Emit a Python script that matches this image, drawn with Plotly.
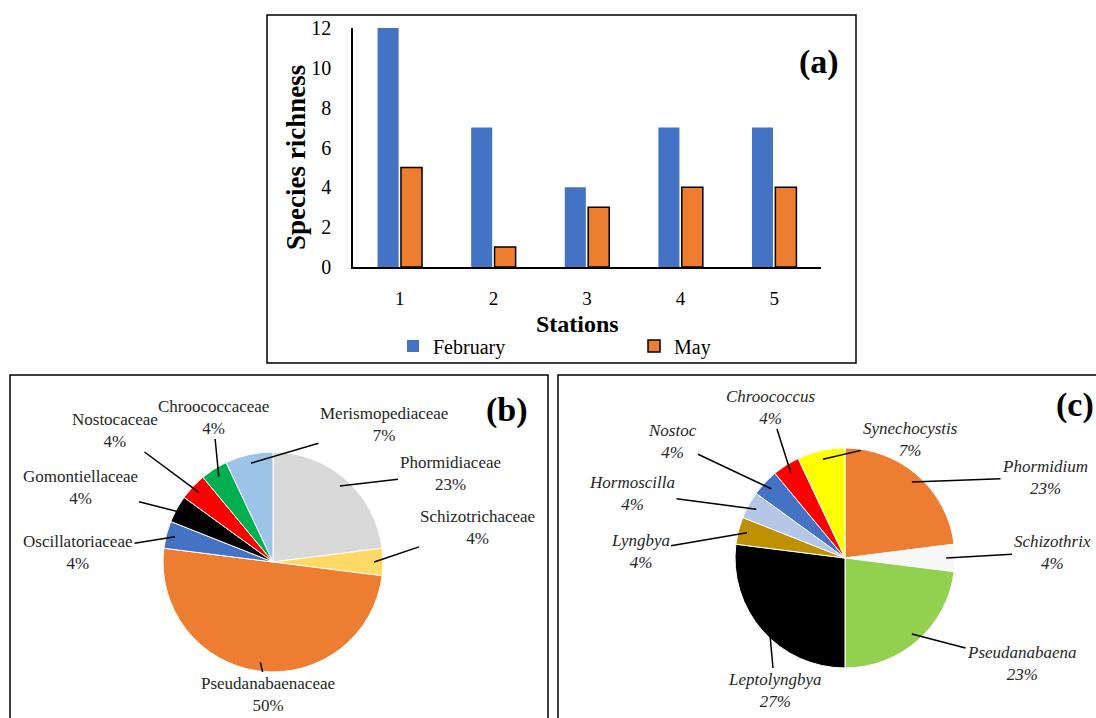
import math
import plotly.graph_objects as go

# ---------------- data ----------------
stations = ["1", "2", "3", "4", "5"]
feb_richness = [12, 7, 4, 7, 7]
may_richness = [5, 1, 3, 4, 4]
y_ticks = [0, 2, 4, 6, 8, 10, 12]

family_names = ["Phormidiaceae", "Schizotrichaceae", "Pseudanabaenaceae", "Oscillatoriaceae",
                "Gomontiellaceae", "Nostocaceae", "Chroococcaceae", "Merismopediaceae"]
family_pct = [23, 4, 50, 4, 4, 4, 4, 7]

genus_names = ["Phormidium", "Schizothrix", "Pseudanabaena", "Leptolyngbya", "Lyngbya",
               "Hormoscilla", "Nostoc", "Chroococcus", "Synechocystis"]
genus_pct = [23, 4, 23, 27, 4, 4, 4, 4, 7]

# ---------------- styles / layout ----------------
W, H = 1096, 718
FONT = "Liberation Serif"
family_colors = ["#D9D9D9", "#FFD966", "#ED7D31", "#4472C4", "#000000", "#FF0000", "#00B050", "#9DC3E6"]
genus_colors = ["#ED7D31", "#F7F7F7", "#92D050", "#000000", "#BF9000", "#B4C7E7", "#4472C4", "#FF0000", "#FFFF00"]

def px(x):
    return x / W

def py(y):
    return 1 - y / H

fig = go.Figure()

# ---- (a) bar chart ----
fig.add_trace(go.Bar(x=stations, y=feb_richness, name="February", marker=dict(color="#4472C4", line=dict(width=0)),
                     xaxis="x", yaxis="y", legend="legend"))
fig.add_trace(go.Bar(x=stations, y=may_richness, name="May", marker=dict(color="#ED7D31", line=dict(color="black", width=1.5)),
                     xaxis="x", yaxis="y", legend="legend2"))

# ---- pies ----
pie_b = dict(cx=273, cy=562, r=110)
pie_c = dict(cx=845, cy=558, r=110)

def add_pie(names, vals, colors, geo):
    fig.add_trace(go.Pie(labels=names, values=vals, sort=False, direction="clockwise", rotation=0,
                         marker=dict(colors=colors, line=dict(color="white", width=1)),
                         textinfo="none", showlegend=False, automargin=False,
                         domain=dict(x=[px(geo["cx"] - geo["r"]), px(geo["cx"] + geo["r"])],
                                     y=[py(geo["cy"] + geo["r"]), py(geo["cy"] - geo["r"])])))

add_pie(family_names, family_pct, family_colors, pie_b)
add_pie(genus_names, genus_pct, genus_colors, pie_c)

# label positions (pixel centres of the two-line labels)
label_pos_b = {
    "Phormidiaceae": (450, 473), "Schizotrichaceae": (478, 527), "Pseudanabaenaceae": (268, 694),
    "Oscillatoriaceae": (78, 552), "Gomontiellaceae": (80, 487), "Nostocaceae": (115, 430),
    "Chroococcaceae": (213, 417), "Merismopediaceae": (384, 424),
}
label_pos_c = {
    "Phormidium": (1045, 477), "Schizothrix": (1052, 552), "Pseudanabaena": (1022, 663),
    "Leptolyngbya": (775, 690), "Lyngbya": (640, 551), "Hormoscilla": (632, 493),
    "Nostoc": (672, 442), "Chroococcus": (770, 407), "Synechocystis": (910, 439),
}

annotations = []

def pie_labels(names, vals, geo, pos, italic):
    total = sum(vals)
    cum = 0
    for n, v in zip(names, vals):
        mid = (cum + v / 2) / total * 2 * math.pi
        cum += v
        ex = geo["cx"] + 0.92 * geo["r"] * math.sin(mid)
        ey = geo["cy"] - 0.92 * geo["r"] * math.cos(mid)
        lx, ly = pos[n]
        name = f"<i>{n}</i>" if italic else n
        pct = f"<i>{v}%</i>" if italic else f"{v}%"
        annotations.append(dict(
            x=px(ex), y=py(ey), xref="paper", yref="paper",
            ax=lx - ex, ay=ly - ey, axref="pixel", ayref="pixel",
            text=f"{name}<br>{pct}", showarrow=True, arrowhead=0, arrowwidth=1.5,
            arrowcolor="black", standoff=0, startstandoff=0,
            font=dict(family=FONT, size=17, color="#262626"), align="center"))

pie_labels(family_names, family_pct, pie_b, label_pos_b, False)
pie_labels(genus_names, genus_pct, pie_c, label_pos_c, True)

# panel titles & axis titles
annotations += [
    dict(x=px(819), y=py(62), text="<b>(a)</b>", showarrow=False, xref="paper", yref="paper",
         xanchor="center", yanchor="middle", font=dict(family=FONT, size=34, color="black")),
    dict(x=px(507), y=py(410), text="<b>(b)</b>", showarrow=False, xref="paper", yref="paper",
         xanchor="center", yanchor="middle", font=dict(family=FONT, size=34, color="black")),
    dict(x=px(1075), y=py(405), text="<b>(c)</b>", showarrow=False, xref="paper", yref="paper",
         xanchor="center", yanchor="middle", font=dict(family=FONT, size=34, color="black")),
    dict(x=px(577), y=py(324), text="<b>Stations</b>", showarrow=False, xref="paper", yref="paper",
         xanchor="center", yanchor="middle", font=dict(family=FONT, size=24, color="black")),
    dict(x=px(296), y=py(158), text="<b>Species richness</b>", showarrow=False, xref="paper", yref="paper",
         xanchor="center", yanchor="middle", textangle=-90, font=dict(family=FONT, size=27, color="black")),
]

shapes = [
    dict(type="rect", xref="paper", yref="paper", x0=px(267), x1=px(856), y0=py(363), y1=py(15),
         line=dict(color="black", width=1.5)),
    dict(type="rect", xref="paper", yref="paper", x0=px(10), x1=px(548), y0=py(740), y1=py(375),
         line=dict(color="black", width=1.5)),
    dict(type="rect", xref="paper", yref="paper", x0=px(558), x1=px(1120), y0=py(740), y1=py(375),
         line=dict(color="black", width=1.5)),
]

fig.update_layout(
    width=W, height=H, margin=dict(l=0, r=0, t=0, b=0, autoexpand=False),
    paper_bgcolor="white", plot_bgcolor="white",
    font=dict(family=FONT, color="black"),
    barmode="group", bargap=0.5, bargroupgap=0.1,
    xaxis=dict(domain=[px(353), px(821)], anchor="y", type="category", showline=True, linecolor="black",
               linewidth=1.5, ticks="", showgrid=False, zeroline=False, ticklabelstandoff=13,
               automargin=False, tickfont=dict(family=FONT, size=19, color="black")),
    yaxis=dict(domain=[py(267), py(28)], anchor="x", range=[0, 12], tickvals=y_ticks, showline=True,
               linecolor="black", linewidth=1.5, ticks="", showgrid=False, zeroline=False,
               automargin=False, ticklabelstandoff=16, tickfont=dict(family=FONT, size=20, color="black")),
    legend=dict(x=px(393), y=py(346), xanchor="left", yanchor="middle", orientation="h",
                font=dict(family=FONT, size=20, color="black"), bgcolor="rgba(0,0,0,0)"),
    legend2=dict(x=px(634), y=py(346), xanchor="left", yanchor="middle", orientation="h",
                 font=dict(family=FONT, size=20, color="black"), bgcolor="rgba(0,0,0,0)"),
    annotations=annotations, shapes=shapes,
)

fig.write_html("out.html", config={"displayModeBar": False},
               post_script="document.body.style.margin='0';document.body.style.overflow='hidden';")
